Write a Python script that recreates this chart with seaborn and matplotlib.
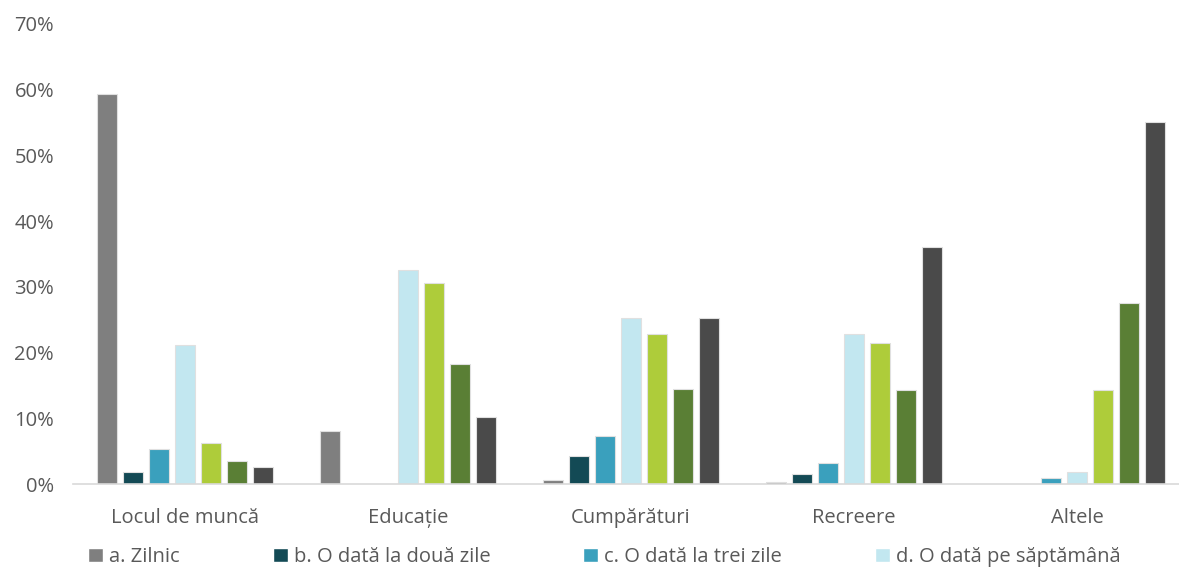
import pandas as pd
import matplotlib.pyplot as plt
import seaborn as sns
from matplotlib.patches import Patch
from matplotlib.ticker import FuncFormatter

categories = ['Locul de muncă', 'Educație', 'Cumpărături', 'Recreere', 'Altele']
series = ['a. Zilnic', 'b. O dată la două zile', 'c. O dată la trei zile',
          'd. O dată pe săptămână', 'e. O dată la două săptămâni',
          'f. O dată pe lună', 'g. Mai rar']
values = {
    'a. Zilnic':                   [59.3, 8.1, 0.6, 0.4, 0.0],
    'b. O dată la două zile':      [1.8, 0.0, 4.3, 1.6, 0.0],
    'c. O dată la trei zile':      [5.3, 0.0, 7.4, 3.3, 1.0],
    'd. O dată pe săptămână':      [21.2, 32.6, 25.3, 22.8, 1.9],
    'e. O dată la două săptămâni': [6.2, 30.6, 22.8, 21.5, 14.4],
    'f. O dată pe lună':           [3.5, 18.3, 14.5, 14.4, 27.5],
    'g. Mai rar':                  [2.6, 10.2, 25.3, 36.1, 55.1],
}
colors = ['#7f7f7f', '#134a55', '#3aa0bd', '#c2e7f0', '#aecc3a', '#5a7f35', '#4a4a4a']

rows = []
for s in series:
    for c, v in zip(categories, values[s]):
        rows.append({'cat': c, 'serie': s, 'val': v})
df = pd.DataFrame(rows)

sns.set_style('white')
plt.rcParams['font.family'] = ['Open Sans', 'DejaVu Sans']
text_col = '#595959'

fig = plt.figure(figsize=(11.79, 5.67), dpi=100)
# the chart is cropped a little on the right, axes runs slightly past the edge
ax = fig.add_axes([0.0623, 0.146, 0.9457, 0.812])

sns.barplot(data=df, x='cat', y='val', hue='serie', order=categories,
            hue_order=series, palette=colors, saturation=1, width=0.816, gap=0.23,
            edgecolor='#e0e0e0', linewidth=0.8, legend=False, ax=ax)

ax.set_ylim(0, 70)
ax.set_yticks(range(0, 71, 10))
ax.yaxis.set_major_formatter(FuncFormatter(lambda v, p: f'{v:.0f}%'))
ax.set_xlabel('')
ax.set_ylabel('')
ax.tick_params(axis='both', length=0, labelsize=14.5, colors=text_col)
ax.tick_params(axis='x', pad=17)
ax.tick_params(axis='y', pad=14)
for sp in ['top', 'right', 'left']:
    ax.spines[sp].set_visible(False)
ax.spines['bottom'].set_color('#d9d9d9')
ax.spines['bottom'].set_linewidth(1.2)

# only the first four legend entries fit inside the cropped picture
handles = [Patch(facecolor=colors[i], label=series[i]) for i in range(4)]
leg = fig.legend(handles=handles, loc='lower left', ncol=4, frameon=False,
                 bbox_to_anchor=(0.0595, -0.032), fontsize=14.5,
                 handlelength=0.75, handleheight=0.75, handletextpad=0.3,
                 columnspacing=4.6)
for t in leg.get_texts():
    t.set_color(text_col)

fig.savefig('out.png', dpi=100)
